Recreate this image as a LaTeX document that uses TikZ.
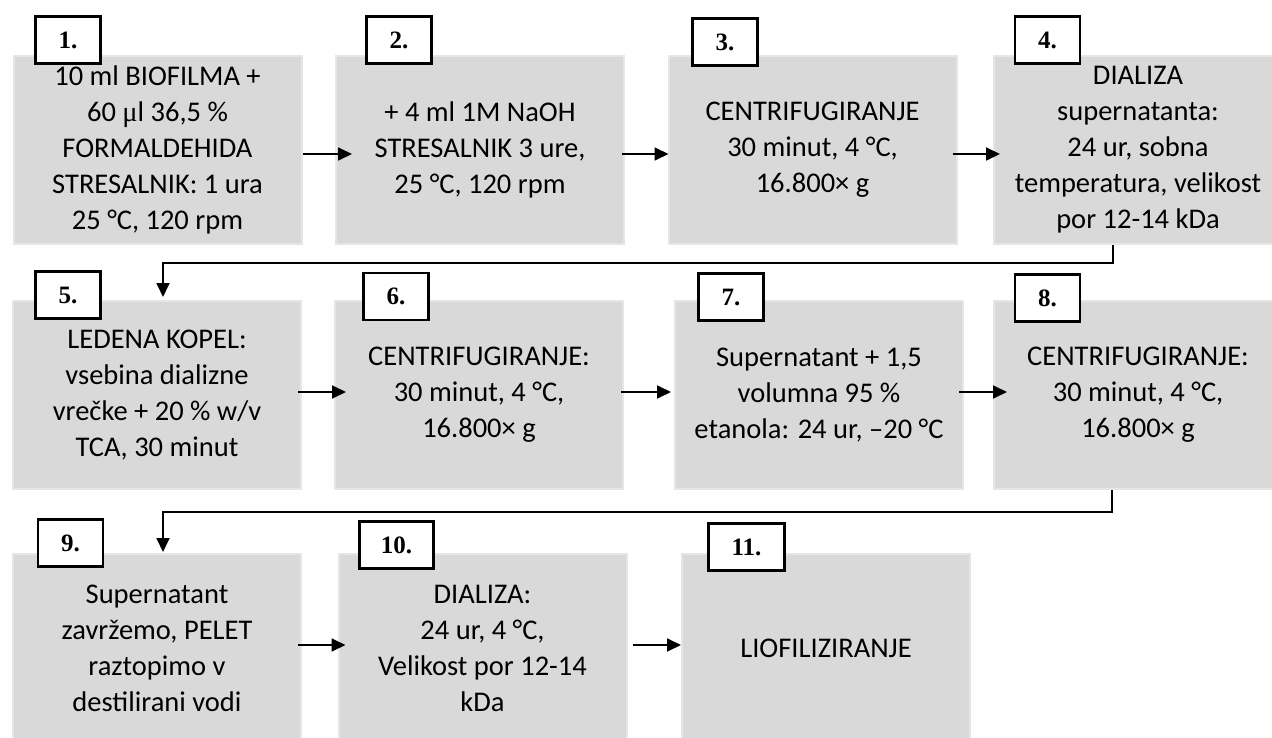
\documentclass[tikz,border=0pt]{standalone}
\usepackage{fontspec}
\setmainfont{Carlito}
\newfontfamily\numfont{Liberation Serif}
\usetikzlibrary{arrows.meta}
\definecolor{boxgray}{HTML}{D9D9D9}
\definecolor{boxedge}{HTML}{E6E6E6}
\begin{document}
\begin{tikzpicture}[x=1pt,y=-1pt,
  stepbox/.style={fill=boxgray, draw=boxedge, line width=2pt, align=center,
    font=\fontsize{28.5}{36}\selectfont, inner sep=0pt, minimum height=188pt, minimum width=288pt},
  numbox/.style={fill=white, draw=black, line width=2.8pt,
    font=\numfont\bfseries\fontsize{25}{28}\selectfont, minimum height=47pt, minimum width=65pt, inner sep=0pt},
  arr/.style={line width=1.8pt, -{Triangle[length=14pt,width=13pt]}},
]
\useasboundingbox (0,0) rectangle (1272,738);
\clip (0,0) rectangle (1272,738);

% step boxes
\node[stepbox] (b1) at (157.5,150) {10 ml BIOFILMA +\\60 {\numfont μ}l 36,5 \%\\FORMALDEHIDA\\STRESALNIK: 1 ura\\25 °C, 120 rpm};
\node[stepbox] (b2) at (480,150) {+ 4 ml 1M NaOH\\STRESALNIK 3 ure,\\25 °C, 120 rpm};
\node[stepbox] (b3) at (812.5,150) {CENTRIFUGIRANJE\\30 minut, 4 °C,\\16.800× g};
\node[stepbox] (b4) at (1138,150) {DIALIZA\\supernatanta:\\24 ur, sobna\\temperatura, velikost\\por 12-14 kDa};

\node[stepbox] (b5) at (157,395) {LEDENA KOPEL:\\vsebina dializne\\vrečke + 20 \% w/v\\TCA, 30 minut};
\node[stepbox] (b6) at (479,395) {CENTRIFUGIRANJE:\\30 minut, 4 °C,\\16.800× g};
\node[stepbox] (b7) at (819,395) {Supernatant + 1,5\\volumna 95 \%\\etanola: 24 ur, –20 °C};
\node[stepbox] (b8) at (1138,395) {CENTRIFUGIRANJE:\\30 minut, 4 °C,\\16.800× g};

\node[stepbox] (b9) at (157,648) {Supernatant\\zavržemo, PELET\\raztopimo v\\destilirani vodi};
\node[stepbox] (b10) at (482.5,648) {DIALIZA:\\24 ur, 4 °C,\\Velikost por 12-14\\kDa};
\node[stepbox] (b11) at (826,648) {LIOFILIZIRANJE};

% horizontal arrows
\draw[arr] ([yshift=-4pt]b1.east) -- ([xshift=17pt,yshift=-4pt]b2.west);
\draw[arr] ([xshift=-3pt,yshift=-4pt]b2.east) -- ([xshift=1pt,yshift=-4pt]b3.west);
\draw[arr] ([xshift=-5pt,yshift=-4pt]b3.east) -- ([xshift=7pt,yshift=-4pt]b4.west);

\draw[arr] ([xshift=-4pt,yshift=3pt]b5.east) -- ([xshift=12pt,yshift=3pt]b6.west);
\draw[arr] ([xshift=-3pt,yshift=3pt]b6.east) -- ([xshift=-3pt,yshift=3pt]b7.west);
\draw[arr] ([xshift=-5pt,yshift=3pt]b7.east) -- ([xshift=14pt,yshift=3pt]b8.west);

\draw[arr] ([xshift=-4pt,yshift=3pt]b9.east) -- ([xshift=8pt,yshift=3pt]b10.west);
\draw[arr] ([xshift=5pt,yshift=3pt]b10.east) -- ([yshift=3pt]b11.west);

% elbow connectors
\draw[arr] ([xshift=-25pt]b4.south) |- ([xshift=6pt,yshift=37pt]b5.north) -- ([xshift=6pt,yshift=3pt]b5.north);
\draw[arr] ([xshift=-26pt]b8.south) |- ([xshift=6pt,yshift=41pt]b9.north) -- ([xshift=6pt,yshift=1pt]b9.north);

% number labels
\node[numbox] (l1) at (68,40) {1.};
\node[numbox] (l2) at (399,40) {2.};
\node[numbox] (l3) at (725,42) {3.};
\node[numbox] (l4) at (1047.5,40) {4.};
\node[numbox] (l5) at (68,295) {5.};
\node[numbox] (l6) at (396,296.5) {6.};
\node[numbox] (l7) at (731,297) {7.};
\node[numbox] (l8) at (1047.5,298) {8.};
\node[numbox] (l9) at (70.5,543) {9.};
\node[numbox, minimum width=74pt] (l10) at (396.5,545) {10.};
\node[numbox, minimum width=76pt] (l11) at (746.5,547) {11.};
\end{tikzpicture}
\end{document}
